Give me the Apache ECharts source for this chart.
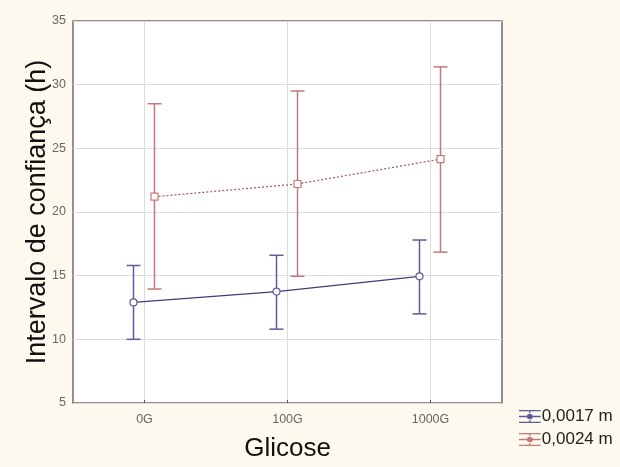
<!DOCTYPE html>
<html>
<head>
<meta charset="utf-8">
<script src="https://cdn.jsdelivr.net/npm/echarts@6/dist/echarts.min.js"></script>
<style>
html,body{margin:0;padding:0;background:#fdf9ef;}
#c{width:620px;height:467px;}
</style>
</head>
<body>
<div id="c"></div>
<script>
// ---- data ----
var categories = ['0G', '100G', '1000G'];
var seriesNames = ['0,0017 m', '0,0024 m'];
var meanA = [12.9, 13.75, 14.95];
var lowA  = [10.0, 10.8, 12.0];
var highA = [15.8, 16.6, 17.8];
var meanB = [21.2, 22.2, 24.15];
var lowB  = [13.95, 14.95, 16.85];
var highB = [28.5, 29.5, 31.4];
var yTicks = [5, 10, 15, 20, 25, 30, 35];

var colA = '#5c5c98', lineA = '#3e3e78';
var colB = '#c07b7b', lineB = '#a05858';

function build(mean, low, high) {
  return mean.map(function (m, i) { return [i, m, low[i], high[i]]; });
}

function makeRender(offset, color, lineColor, dashed, square, mean) {
  return function (params, api) {
    var i = api.value(0);
    var p = api.coord([i, api.value(1)]);
    var lo = api.coord([i, api.value(2)]);
    var hi = api.coord([i, api.value(3)]);
    var x = p[0] + offset;
    var children = [];
    if (i < mean.length - 1) {
      var np = api.coord([i + 1, mean[i + 1]]);
      children.push({
        type: 'line',
        shape: {x1: x, y1: p[1], x2: np[0] + offset, y2: np[1]},
        style: {stroke: lineColor, lineWidth: 1.2, lineDash: dashed ? [2, 2] : null}
      });
    }
    var cap = 7;
    children.push({type: 'line', shape: {x1: x, y1: hi[1], x2: x, y2: lo[1]}, style: {stroke: color, lineWidth: 1.5}});
    children.push({type: 'line', shape: {x1: x - cap, y1: hi[1], x2: x + cap, y2: hi[1]}, style: {stroke: color, lineWidth: 1.5}});
    children.push({type: 'line', shape: {x1: x - cap, y1: lo[1], x2: x + cap, y2: lo[1]}, style: {stroke: color, lineWidth: 1.5}});
    if (square) {
      children.push({type: 'rect', shape: {x: x - 3.5, y: p[1] - 3.5, width: 7, height: 7}, style: {fill: '#fff', stroke: color, lineWidth: 1.2}});
    } else {
      children.push({type: 'circle', shape: {cx: x, cy: p[1], r: 3.5}, style: {fill: '#fff', stroke: color, lineWidth: 1.2}});
    }
    return {type: 'group', children: children};
  };
}

var iconPath = 'path://M0,0h20v1.2h-20z M0,5.4h7.2a3,3 0 0,1 5.6,0h7.2v1.2h-7.2a3,3 0 0,1 -5.6,0h-7.2z M0,10.8h20v1.2h-20z M9.4,0h1.2v2.8h-1.2z M9.4,9.2h1.2v2.8h-1.2z';

var chart = echarts.init(document.getElementById('c'), null, {renderer: 'canvas'});
chart.setOption({
  backgroundColor: '#fdf9ef',
  animation: false,
  grid: {left: 73, right: 118, top: 21, bottom: 64, show: true, backgroundColor: '#ffffff', borderColor: '#6e6e6e', borderWidth: 1.5},
  legend: {
    orient: 'vertical', left: 514, top: 403, itemGap: 6, itemWidth: 22, itemHeight: 13,
    textStyle: {fontFamily: 'Arial, Liberation Sans', fontSize: 17, color: '#222', padding: [0, 0, 0, -4]},
    data: [
      {name: seriesNames[0], icon: iconPath, itemStyle: {color: colA}},
      {name: seriesNames[1], icon: iconPath, itemStyle: {color: colB}}
    ]
  },
  xAxis: {
    type: 'category', data: categories, boundaryGap: true,
    name: 'Glicose', nameLocation: 'middle', nameGap: 33,
    nameTextStyle: {fontFamily: 'Arial, Liberation Sans', fontSize: 26, color: '#111'},
    axisLine: {show: false},
    axisTick: {show: true, inside: true, length: 3, alignWithLabel: true, lineStyle: {color: '#555'}},
    axisLabel: {fontFamily: 'Arial, Liberation Sans', fontSize: 12.5, color: '#666', margin: 10},
    splitLine: {show: true, alignWithLabel: true, lineStyle: {color: '#dcdcdc', width: 1}}
  },
  yAxis: {
    type: 'value', min: 5, max: 35, interval: 5,
    name: 'Intervalo de confiança (h)', nameLocation: 'middle', nameGap: 22, nameMoveOverlap: false,
    nameTextStyle: {fontFamily: 'Arial, Liberation Sans', fontSize: 27, color: '#111'},
    axisLine: {show: false},
    axisTick: {show: false},
    axisLabel: {fontFamily: 'Arial, Liberation Sans', fontSize: 12.5, color: '#666', margin: 7,
      formatter: function (v) { return yTicks.indexOf(v) >= 0 ? String(v) : ''; }},
    splitLine: {show: true, lineStyle: {color: '#dcdcdc', width: 1}}
  },
  series: [
    {name: seriesNames[0], type: 'custom', itemStyle: {color: colA},
     renderItem: makeRender(-11, colA, lineA, false, false, meanA),
     data: build(meanA, lowA, highA), encode: {x: 0, y: [1, 2, 3]}, z: 3},
    {name: seriesNames[1], type: 'custom', itemStyle: {color: colB},
     renderItem: makeRender(10, colB, lineB, true, true, meanB),
     data: build(meanB, lowB, highB), encode: {x: 0, y: [1, 2, 3]}, z: 2}
  ]
});
</script>
</body>
</html>
